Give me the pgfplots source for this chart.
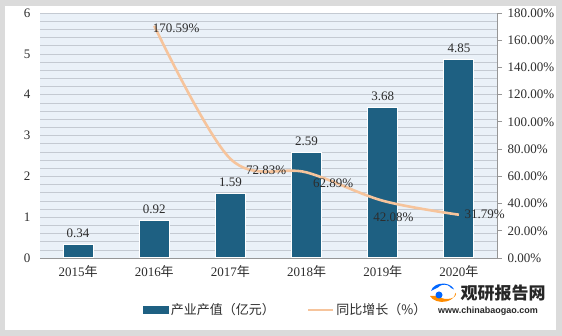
\documentclass[border=0pt]{standalone}
\usepackage{pgfplots}
\usepackage{pgfplotstable}
\pgfplotsset{compat=1.18}
\usepackage{fontspec}
\setmainfont{Liberation Serif}
\newfontfamily\cjk{Noto Sans CJK SC}
\newfontfamily\lsans{Liberation Sans}
\definecolor{barc}{RGB}{30,96,130}
\definecolor{linec}{RGB}{246,196,156}
\definecolor{plotbg}{RGB}{234,241,248}
\definecolor{gridc}{RGB}{196,202,210}
\definecolor{txt}{RGB}{45,45,45}
\definecolor{axc}{RGB}{150,150,150}

\pgfplotstableread{
x y
0 0.34
1 0.92
2 1.59
3 2.59
4 3.68
5 4.85
}\bars

\pgfplotstableread{
x y dx dy
1 170.59 -6 -2
2 72.83 11 -11
3 62.89 2 -11
4 42.08 -14 -17
5 31.79 1 0
}\growth

\begin{document}
\begin{tikzpicture}
\fill[gray!28] (0pt,0pt) rectangle (562pt,336pt);
\fill[white] (5pt,6pt) rectangle (556pt,330pt);

\begin{axis}[
  at={(40pt,78pt)}, anchor=south west,
  width=457pt, height=245pt, scale only axis,
  xmin=-0.5, xmax=5.5, ymin=0, ymax=6,
  axis background/.style={fill=plotbg},
  axis x line*=bottom, axis y line*=left,
  x axis line style={draw=axc, line width=0.8pt},
  y axis line style={draw=none},
  xtick={0,...,5},
  xticklabels={2015{\cjk 年},2016{\cjk 年},2017{\cjk 年},2018{\cjk 年},2019{\cjk 年},2020{\cjk 年}},
  xtick style={draw=none},
  ytick={0,...,6},
  minor y tick num=4,
  ytick style={draw=none}, minor tick style={draw=none},
  ymajorgrids, yminorgrids,
  major grid style={draw=gridc, line width=0.6pt},
  minor grid style={draw=gridc, line width=0.6pt},
  /pgf/number format/assume math mode=true,
  tick label style={font=\fontsize{13}{15}\selectfont, text=txt},
  yticklabel style={xshift=-6pt},
  xticklabel style={yshift=-4pt},
  clip=false,
]
\addplot[ybar, bar width=30pt, fill=barc, draw=white, line width=1pt,
  nodes near coords={\pgfmathprintnumber[fixed,fixed zerofill,precision=2]{\pgfplotspointmeta}},
  nodes near coords style={font=\fontsize{13}{15}\selectfont, text=txt, yshift=3pt},
] table[x=x,y=y] {\bars};
\end{axis}

\begin{axis}[
  at={(40pt,78pt)}, anchor=south west,
  width=457pt, height=245pt, scale only axis,
  xmin=-0.5, xmax=5.5, ymin=0, ymax=180,
  axis x line=none, axis y line*=right,
  y axis line style={draw=axc, line width=0.8pt},
  ytick={0,20,...,180},
  tick align=outside, major tick length=5pt,
  ytick style={draw=axc, line width=0.8pt},
  /pgf/number format/assume math mode=true,
  yticklabel={\pgfmathprintnumber[fixed,fixed zerofill,precision=2]{\tick}\%},
  yticklabel style={font=\fontsize{13}{15}\selectfont, text=txt, anchor=west, xshift=2pt},
  clip=false,
  legend style={at={(0.538,-0.212)}, anchor=center, draw=none, fill=none,
    legend columns=2, font=\fontsize{13}{15}\selectfont, text=txt,
    /tikz/every even column/.append style={column sep=30pt}},
]
\addlegendimage{legend image code/.code={\fill[barc] (0pt,-3.5pt) rectangle (25pt,3.5pt);}}
\addlegendentry{{\cjk 产业产值（亿元）}}
\addplot[linec, line width=2.6pt, smooth, tension=0.55, mark=none,
  visualization depends on={\thisrow{dx}\as\dx},
  visualization depends on={\thisrow{dy}\as\dy},
  nodes near coords={\pgfmathprintnumber[fixed,fixed zerofill,precision=2]{\pgfplotspointmeta}\%},
  nodes near coords style={font=\fontsize{13}{15}\selectfont, text=txt, anchor=west, xshift=\dx pt, yshift=\dy pt},
  legend image code/.code={\draw[linec, line width=2.6pt] (0pt,0pt) -- (25pt,0pt);},
] table[x=x,y=y] {\growth};
\addlegendentry{{\cjk 同比增长（\%）}}
\end{axis}

% watermark
\begin{scope}[shift={(443pt,42pt)}, x=1pt, y=1pt]
  \fill[orange!90!yellow] (-13,-2) arc (200:360:13 and 9) -- (13,0) arc (0:-160:9 and 5) -- cycle;
  \fill[blue!60!cyan] (-12,3) arc (170:20:12 and 9) -- (8,6) arc (20:150:7 and 5) -- cycle;
  \fill[blue!60!cyan] (-4,-1) circle (3.5);
\end{scope}
\node[font=\cjk\bfseries\fontsize{17}{19}\selectfont, text=black!85] at (503pt,43pt) {观研报告网};
\node[font=\lsans\bfseries\fontsize{9}{11}\selectfont, text=black!85] at (488pt,25pt) {www.chinabaogao.com};
\end{tikzpicture}
\end{document}
